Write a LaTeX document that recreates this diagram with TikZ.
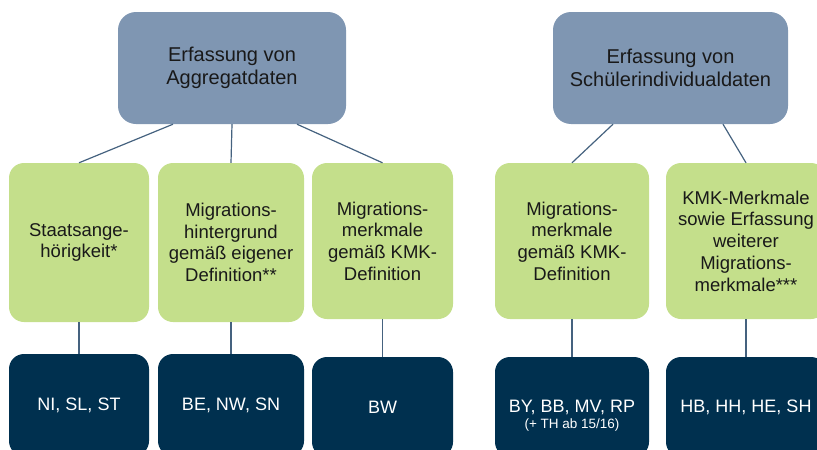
\documentclass[tikz,border=0pt]{standalone}
\usepackage{fontspec}
\setmainfont{Liberation Sans}
\usetikzlibrary{positioning}
\definecolor{topblue}{HTML}{7F96B2}
\definecolor{mgreen}{HTML}{C4DF8B}
\definecolor{navy}{HTML}{00304F}
\definecolor{linkblue}{HTML}{45627F}

\begin{document}
\begin{tikzpicture}[x=1pt, y=-1pt,
		box/.style={align=center, inner sep=2pt, rounded corners=15pt},
		headbox/.style={box, fill=topblue, text=black!90, rounded corners=18pt,
			minimum height=112pt, font=\fontsize{20}{23}\selectfont},
		typebox/.style={box, fill=mgreen, text=black!90, minimum height=156pt,
			font=\fontsize{18.5}{21.7}\selectfont},
		landbox/.style={box, fill=navy, text=white, minimum height=100pt,
			font=\fontsize{18}{21}\selectfont},
		subtext/.style={inner sep=0pt, text=white, font=\fontsize{13.5}{15}\selectfont},
		link/.style={draw=linkblue, line width=1.2pt}]
	\clip (0,0) rectangle (817,450);
	\node[headbox, minimum width=228pt] (t1) at (232,68) {Erfassung von\\Aggregatdaten};
	\node[headbox, minimum width=235pt] (t2) at (670.5,68) {Erfassung von\\Schülerindividualdaten};
	\node[typebox, minimum width=140pt, minimum height=159pt] (g1) at (79,242.5) {Staatsange-\\hörigkeit*};
	\node[typebox, minimum width=146pt, minimum height=159pt] (g2) at (231,242.5) {Migrations-\\hintergrund\\gemäß eigener\\Definition**};
	\node[typebox, minimum width=141pt] (g3) at (382.5,241) {Migrations-\\merkmale\\gemäß KMK-\\Definition};
	\node[typebox, minimum width=154pt] (g4) at (572,241) {Migrations-\\merkmale\\gemäß KMK-\\Definition};
	\node[typebox, minimum width=160pt] (g5) at (746,241) {KMK-Merkmale\\sowie Erfassung\\weiterer\\Migrations-\\merkmale***};
	\node[landbox, minimum width=140pt, minimum height=102pt] (d1) at (79,405) {NI, SL, ST};
	\node[landbox, minimum width=146pt, minimum height=102pt] (d2) at (231,405) {BE, NW, SN};
	\node[landbox, minimum width=141pt] (d3) at (382.5,407) {BW};
	\node[landbox, minimum width=154pt] (d4) at (572,407) {BY, BB, MV, RP};
	\node[subtext, below=6pt of d4.base] (d4s) {(+ TH ab 15/16)};
	\node[landbox, minimum width=160pt] (d5) at (746,407) {HB, HH, HE, SH};
	\draw[link] ([xshift=-59pt]t1.south) -- (g1.north);
	\draw[link] (t1.south) -- (g2.north);
	\draw[link] ([xshift=65pt]t1.south) -- (g3.north);
	\draw[link] ([xshift=-57.5pt]t2.south) -- (g4.north);
	\draw[link] ([xshift=52.5pt]t2.south) -- (g5.north);
	\foreach \n in {1,...,5}
		\draw[link] (g\n.south) -- (d\n.north);
\end{tikzpicture}
\end{document}
